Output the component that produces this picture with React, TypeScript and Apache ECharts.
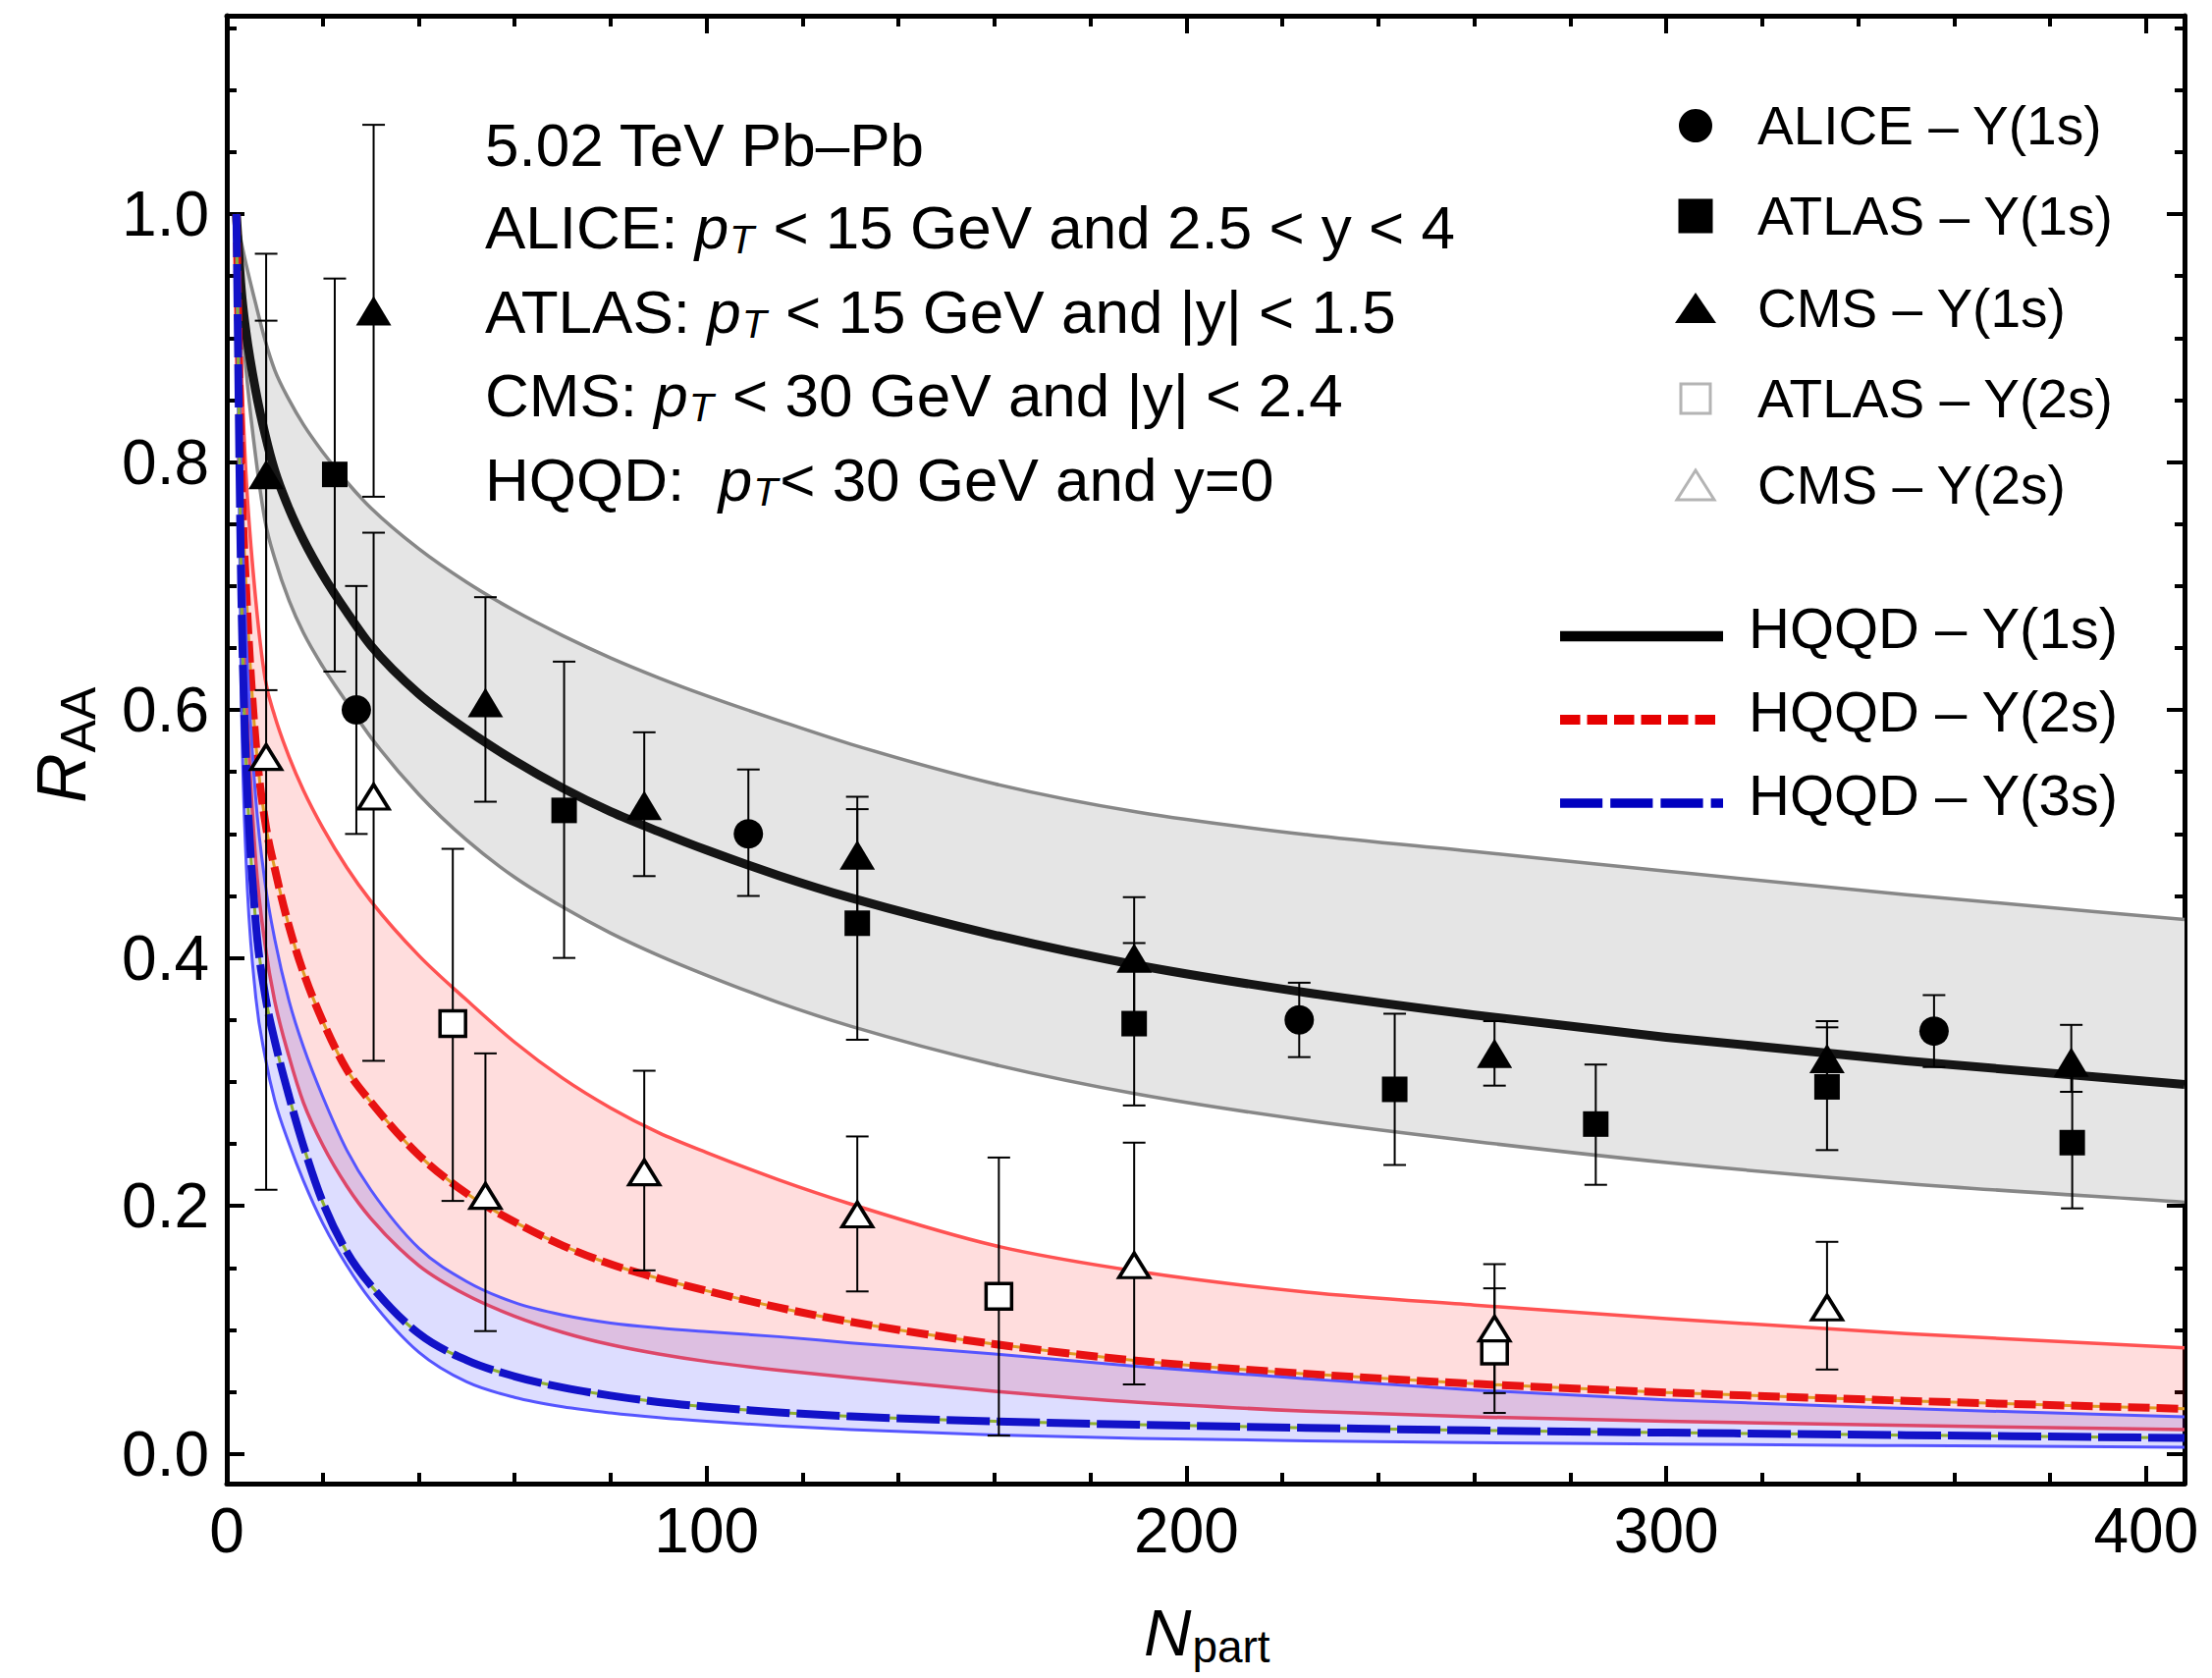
import React, { useEffect, useRef } from "react";
import * as echarts from "echarts";

// ---------------- data ----------------
const N_GRID = [2, 3, 4, 6, 8, 10, 13, 16, 20, 25, 30, 40, 50, 60, 70, 80, 90, 100, 115, 130, 160, 190, 225, 260, 300, 350, 408];

const Y1S_MID = [1.0, 0.94, 0.905, 0.858, 0.822, 0.793, 0.762, 0.737, 0.709, 0.679, 0.652, 0.613, 0.584, 0.559, 0.537, 0.518, 0.502, 0.487, 0.4665, 0.4485, 0.4185, 0.394, 0.372, 0.354, 0.336, 0.317, 0.298];
const Y1S_UP = [1.0, 0.978, 0.96, 0.928, 0.898, 0.874, 0.85, 0.83, 0.808, 0.784, 0.763, 0.73, 0.703, 0.68, 0.66, 0.642, 0.626, 0.6115, 0.5915, 0.5725, 0.5405, 0.5175, 0.4995, 0.4858, 0.47, 0.451, 0.431];
const Y1S_LO = [1.0, 0.925, 0.875, 0.805, 0.752, 0.722, 0.688, 0.662, 0.635, 0.606, 0.578, 0.532, 0.495, 0.465, 0.441, 0.42, 0.402, 0.386, 0.364, 0.345, 0.314, 0.29, 0.269, 0.252, 0.235, 0.218, 0.203];

const Y2S_MID = [1.0, 0.8, 0.7, 0.575, 0.51, 0.472, 0.425, 0.388, 0.349, 0.31, 0.284, 0.241, 0.21, 0.187, 0.168, 0.153, 0.1415, 0.1315, 0.118, 0.1065, 0.0885, 0.075, 0.0645, 0.0565, 0.0495, 0.0428, 0.0363];
const Y2S_UP = [1.0, 0.88, 0.79, 0.69, 0.625, 0.595, 0.562, 0.535, 0.505, 0.473, 0.446, 0.402, 0.366, 0.332, 0.303, 0.279, 0.259, 0.243, 0.221, 0.2015, 0.168, 0.147, 0.1305, 0.12, 0.109, 0.097, 0.0855];
const Y2S_LO = [1.0, 0.75, 0.62, 0.48, 0.41, 0.365, 0.32, 0.283, 0.249, 0.216, 0.19, 0.152, 0.128, 0.111, 0.098, 0.088, 0.0805, 0.0745, 0.0675, 0.0615, 0.0505, 0.0415, 0.0345, 0.0298, 0.0262, 0.0229, 0.0195];

const Y3S_MID = [1.0, 0.7, 0.56, 0.43, 0.37, 0.333, 0.288, 0.248, 0.203, 0.163, 0.136, 0.097, 0.0755, 0.0625, 0.0535, 0.047, 0.0418, 0.038, 0.0335, 0.0302, 0.0262, 0.0235, 0.021, 0.0189, 0.0171, 0.0151, 0.0128];
const Y3S_UP = [1.0, 0.78, 0.66, 0.53, 0.46, 0.415, 0.365, 0.328, 0.288, 0.245, 0.213, 0.166, 0.139, 0.122, 0.112, 0.1055, 0.1015, 0.0985, 0.0945, 0.0895, 0.0805, 0.0705, 0.0605, 0.0515, 0.0435, 0.0365, 0.0298];
const Y3S_LO = [1.0, 0.62, 0.48, 0.37, 0.32, 0.285, 0.25, 0.22, 0.186, 0.152, 0.124, 0.082, 0.058, 0.0455, 0.038, 0.033, 0.0292, 0.0262, 0.0225, 0.0195, 0.0152, 0.0125, 0.0105, 0.0091, 0.0078, 0.0066, 0.0054];

const ALICE1_N = [27, 108.7, 223.5, 355.8];
const ALICE1_R = [0.6, 0.5, 0.35, 0.341];
const ALICE1_LO = [0.5, 0.45, 0.32, 0.312];
const ALICE1_HI = [0.7, 0.552, 0.38, 0.37];

const ATLAS1_N = [22.5, 70.3, 131.4, 189.1, 243.4, 285.3, 333.5, 384.6];
const ATLAS1_R = [0.79, 0.519, 0.428, 0.347, 0.294, 0.266, 0.296, 0.251];
const ATLAS1_LO = [0.631, 0.4, 0.334, 0.281, 0.233, 0.217, 0.245, 0.198];
const ATLAS1_HI = [0.948, 0.639, 0.52, 0.412, 0.355, 0.314, 0.344, 0.305];

const CMS1_N = [8.2, 30.6, 53.9, 87, 131.4, 189.1, 264.2, 333.5, 384.4];
const CMS1_R = [0.79, 0.922, 0.606, 0.523, 0.483, 0.4, 0.323, 0.319, 0.316];
const CMS1_LO = [0.616, 0.772, 0.526, 0.466, 0.436, 0.351, 0.297, 0.29, 0.292];
const CMS1_HI = [0.968, 1.072, 0.691, 0.582, 0.53, 0.449, 0.349, 0.349, 0.346];

const ATLAS2_N = [47.1, 160.9, 264.2];
const ATLAS2_R = [0.347, 0.127, 0.083];
const ATLAS2_LO = [0.204, 0.0147, 0.033];
const ATLAS2_HI = [0.488, 0.239, 0.1335];

const CMS2_N = [8.2, 30.6, 53.9, 87, 131.4, 189.1, 264.2, 333.5];
const CMS2_R = [0.562, 0.53, 0.208, 0.227, 0.193, 0.152, 0.101, 0.118];
const CMS2_LO = [0.213, 0.317, 0.099, 0.148, 0.131, 0.056, 0.049, 0.068];
const CMS2_HI = [0.914, 0.743, 0.323, 0.309, 0.256, 0.251, 0.153, 0.171];

const X_TICKS_MAJOR = 100;
const X_TICKS_MINOR = 20;
const Y_TICKS_MAJOR = 0.2;
const Y_TICKS_MINOR = 0.05;

const LEGEND_MARKERS = ["ALICE \u2013 Y(1s)", "ATLAS \u2013 Y(1s)", "CMS \u2013 Y(1s)", "ATLAS \u2013 Y(2s)", "CMS \u2013 Y(2s)"];
const LEGEND_LINES = ["HQQD \u2013 Y(1s)", "HQQD \u2013 Y(2s)", "HQQD \u2013 Y(3s)"];
const ANNOT = [
  { pre: "5.02 TeV Pb\u2013Pb", post: null as string | null },
  { pre: "ALICE: ", post: " < 15 GeV and 2.5 < y < 4" },
  { pre: "ATLAS: ", post: " < 15 GeV and |y| < 1.5" },
  { pre: "CMS: ", post: " < 30 GeV and |y| < 2.4" },
  { pre: "HQQD:  ", post: "< 30 GeV and y=0" },
];

// ---------------- layout ----------------
const W = 2253;
const H = 1709;
const X_MIN = 0;
const X_MAX = 408;
const Y_MIN = -0.024;
const Y_MAX = 1.16;
const FONT = '"Liberation Sans", Arial, Helvetica, sans-serif';

// monotone cubic (Fritsch-Carlson) drawn as bezier segments through pixel points
function monoSegments(ctx: any, pts: number[][], move: boolean) {
  const n = pts.length;
  if (!n) return;
  if (move) ctx.moveTo(pts[0][0], pts[0][1]);
  else ctx.lineTo(pts[0][0], pts[0][1]);
  if (n === 1) return;
  const h: number[] = [];
  const d: number[] = [];
  for (let i = 0; i < n - 1; i++) {
    h[i] = pts[i + 1][0] - pts[i][0];
    d[i] = h[i] === 0 ? 0 : (pts[i + 1][1] - pts[i][1]) / h[i];
  }
  const m: number[] = new Array(n);
  m[0] = d[0];
  m[n - 1] = d[n - 2];
  for (let i = 1; i < n - 1; i++) m[i] = d[i - 1] * d[i] <= 0 ? 0 : (d[i - 1] + d[i]) / 2;
  for (let i = 0; i < n - 1; i++) {
    if (d[i] === 0) {
      m[i] = 0;
      m[i + 1] = 0;
      continue;
    }
    const a = m[i] / d[i];
    const b = m[i + 1] / d[i];
    const s = a * a + b * b;
    if (s > 9) {
      const t = 3 / Math.sqrt(s);
      m[i] = t * a * d[i];
      m[i + 1] = t * b * d[i];
    }
  }
  for (let i = 0; i < n - 1; i++) {
    const x0 = pts[i][0], y0 = pts[i][1], x1 = pts[i + 1][0], y1 = pts[i + 1][1];
    const dx = h[i] / 3;
    ctx.bezierCurveTo(x0 + dx, y0 + m[i] * dx, x1 - dx, y1 - m[i + 1] * dx, x1, y1);
  }
}

const BandShape = (echarts.graphic as any).extendShape({
  shape: { up: [] as number[][], lo: [] as number[][] },
  buildPath(ctx: any, shape: any) {
    const up = shape.up || [];
    const lo = shape.lo || [];
    monoSegments(ctx, up, true);
    if (lo.length) {
      monoSegments(ctx, lo.slice().reverse(), false);
      ctx.closePath();
    }
  },
});
(echarts.graphic as any).registerShape("hqqdBand", BandShape);

function bandSeries(up: number[], lo: number[], fill: string) {
  return {
    type: "custom",
    coordinateSystem: "cartesian2d",
    silent: true,
    data: [[0, 0]],
    encode: { x: 0, y: 1 },
    renderItem: (_p: any, api: any) => ({
      type: "hqqdBand",
      shape: {
        up: N_GRID.map((n, i) => api.coord([n, up[i]])),
        lo: N_GRID.map((n, i) => api.coord([n, lo[i]])),
      },
      style: { fill, stroke: "none" },
    }),
  };
}

function curveSeries(vals: number[], stroke: string, lineWidth: number, dash?: number[]) {
  return {
    type: "custom",
    coordinateSystem: "cartesian2d",
    silent: true,
    data: [[0, 0]],
    encode: { x: 0, y: 1 },
    renderItem: (_p: any, api: any) => ({
      type: "hqqdBand",
      shape: { up: N_GRID.map((n, i) => api.coord([n, vals[i]])), lo: [] },
      style: { fill: "none", stroke, lineWidth, lineDash: dash || null, lineCap: "butt", lineJoin: "round" },
    }),
  };
}

function zip2(a: number[], b: number[]) {
  return a.map((v, i) => [v, b[i]]);
}
function zip3(a: number[], b: number[], c: number[]) {
  return a.map((v, i) => [v, b[i], c[i]]);
}

const ERR_DATA = [
  ...zip3(ALICE1_N, ALICE1_LO, ALICE1_HI),
  ...zip3(ATLAS1_N, ATLAS1_LO, ATLAS1_HI),
  ...zip3(CMS1_N, CMS1_LO, CMS1_HI),
  ...zip3(ATLAS2_N, ATLAS2_LO, ATLAS2_HI),
  ...zip3(CMS2_N, CMS2_LO, CMS2_HI),
];

let mctx: CanvasRenderingContext2D | null = null;
function tw(text: string, size: number, italic = false): number {
  if (!mctx) mctx = document.createElement("canvas").getContext("2d");
  if (!mctx) return text.length * size * 0.55;
  mctx.font = `${italic ? "italic " : ""}${size}px ${FONT}`;
  return mctx.measureText(text).width;
}

function txt(x: number, y: number, text: string, size: number, italic = false) {
  return {
    type: "text",
    x,
    y,
    z: 100,
    silent: true,
    style: {
      text,
      fontSize: size,
      fontFamily: FONT,
      fontStyle: italic ? "italic" : "normal",
      fill: "#000",
      align: "left",
      verticalAlign: "middle",
      textAlign: "left",
      textVerticalAlign: "middle",
    },
  };
}

function buildGraphics() {
  const els: any[] = [];
  // annotation block
  const AX = 494;
  const AY = [147, 231, 317, 402, 488];
  const FS = 62;
  const SUB = 41;
  ANNOT.forEach((ln, i) => {
    const y = AY[i];
    els.push(txt(AX, y, ln.pre.trim(), FS));
    if (ln.post !== null) {
      const xp = AX + tw(ln.pre, FS);
      els.push(txt(xp, y, "p", FS, true));
      const xT = xp + tw("p", FS, true) + 1;
      els.push(txt(xT, y + 13, "T", SUB, true));
      const lead = (ln.post.match(/^ */) || [""])[0].length;
      const xPost = xT + tw("T", SUB, true) + lead * tw(" ", FS) + 2;
      els.push(txt(xPost, y, ln.post.trimStart(), FS));
    }
  });

  // marker legend
  const LX = 1727;
  const LY = [128, 220, 314, 406, 494];
  els.push({ type: "circle", z: 100, silent: true, shape: { cx: LX, cy: LY[0], r: 17 }, style: { fill: "#000" } });
  els.push({ type: "rect", z: 100, silent: true, shape: { x: LX - 17.5, y: LY[1] - 17.5, width: 35, height: 35 }, style: { fill: "#000" } });
  els.push({
    type: "polygon", z: 100, silent: true,
    shape: { points: [[LX - 21, LY[2] + 15], [LX + 21, LY[2] + 15], [LX, LY[2] - 16]] },
    style: { fill: "#000" },
  });
  els.push({
    type: "rect", z: 100, silent: true,
    shape: { x: LX - 15, y: LY[3] - 15, width: 30, height: 30 },
    style: { fill: "#fff", stroke: "#b4b4b4", lineWidth: 3 },
  });
  els.push({
    type: "polygon", z: 100, silent: true,
    shape: { points: [[LX - 19, LY[4] + 15], [LX + 19, LY[4] + 15], [LX, LY[4] - 15]] },
    style: { fill: "#fff", stroke: "#b4b4b4", lineWidth: 3 },
  });
  LEGEND_MARKERS.forEach((t, i) => els.push(txt(1790, LY[i], t, 55)));

  // line legend
  const L2Y = [639, 724, 809];
  els.push({ type: "line", z: 100, silent: true, shape: { x1: 1589, y1: L2Y[0] + 9, x2: 1755, y2: L2Y[0] + 9 }, style: { stroke: "#000", lineWidth: 10.5 } });
  els.push({ type: "line", z: 100, silent: true, shape: { x1: 1589, y1: L2Y[1] + 9, x2: 1747, y2: L2Y[1] + 9 }, style: { stroke: "#e60000", lineWidth: 10, lineDash: [20.5, 7] } });
  els.push({ type: "line", z: 100, silent: true, shape: { x1: 1589, y1: L2Y[2] + 9, x2: 1755, y2: L2Y[2] + 9 }, style: { stroke: "#0000bf", lineWidth: 9.5, lineDash: [43.2, 8] } });
  LEGEND_LINES.forEach((t, i) => els.push(txt(1781, L2Y[i], t, 58)));

  // y axis title R_AA (rotated)
  const rW = tw("R", 70, true);
  els.push({
    type: "group",
    x: 63,
    y: 818,
    rotation: Math.PI / 2,
    silent: true,
    children: [txt(0, 0, "R", 70, true), txt(rW + 1, 17, "AA", 50)],
  });
  // x axis title N_part
  const nW = tw("N", 67, true);
  els.push(txt(1165, 1662, "N", 67, true));
  els.push(txt(1165 + nW + 1, 1677, "part", 46));
  return els;
}

function xAxisDef(position: string, step: number, major: boolean, labels: boolean) {
  return {
    type: "value",
    position,
    min: X_MIN,
    max: X_MAX,
    minInterval: step,
    maxInterval: step,
    splitLine: { show: false },
    axisLine: { show: major, onZero: false, lineStyle: { color: "#000", width: 5 } },
    axisTick: { show: true, inside: true, length: major ? 18 : 11, lineStyle: { color: "#000", width: 4 } },
    axisLabel: labels
      ? {
          show: true,
          margin: 16,
          fontSize: 64,
          fontFamily: FONT,
          color: "#000",
          showMaxLabel: false,
          formatter: (v: number) => (Math.abs(v / X_TICKS_MAJOR - Math.round(v / X_TICKS_MAJOR)) < 1e-6 ? String(Math.round(v)) : ""),
        }
      : { show: false },
  };
}

function yAxisDef(position: string, step: number, major: boolean, labels: boolean) {
  return {
    type: "value",
    position,
    min: Y_MIN,
    max: Y_MAX,
    minInterval: step,
    maxInterval: step,
    splitLine: { show: false },
    axisLine: { show: major, onZero: false, lineStyle: { color: "#000", width: 5 } },
    axisTick: { show: true, inside: true, length: major ? 18 : 10, lineStyle: { color: "#000", width: 4 } },
    axisLabel: labels
      ? {
          show: true,
          margin: 18,
          fontSize: 64,
          fontFamily: FONT,
          color: "#000",
          showMinLabel: false,
          showMaxLabel: false,
          formatter: (v: number) =>
            Math.abs(v / Y_TICKS_MAJOR - Math.round(v / Y_TICKS_MAJOR)) < 1e-6 ? Math.abs(v).toFixed(1) : "",
        }
      : { show: false },
  };
}

function buildOption() {
  const errSeries = {
    type: "custom",
    coordinateSystem: "cartesian2d",
    silent: true,
    data: ERR_DATA,
    encode: { x: 0, y: [1, 2] },
    renderItem: (_p: any, api: any) => {
      const x = api.value(0);
      const a = api.coord([x, api.value(1)]);
      const b = api.coord([x, api.value(2)]);
      const hw = 11.5;
      const st = { stroke: "#000", lineWidth: 2 };
      return {
        type: "group",
        children: [
          { type: "line", shape: { x1: a[0], y1: a[1], x2: b[0], y2: b[1] }, style: st },
          { type: "line", shape: { x1: a[0] - hw, y1: a[1], x2: a[0] + hw, y2: a[1] }, style: st },
          { type: "line", shape: { x1: b[0] - hw, y1: b[1], x2: b[0] + hw, y2: b[1] }, style: st },
        ],
      };
    },
  };
  const filled = { color: "#000", opacity: 1 };
  const open = { color: "#fff", borderColor: "#000", borderWidth: 3.5, opacity: 1 };
  return {
    animation: false,
    backgroundColor: "#fff",
    grid: { left: 231, right: 28, top: 16, bottom: 198, containLabel: false },
    xAxis: [
      xAxisDef("bottom", X_TICKS_MAJOR, true, true),
      xAxisDef("bottom", X_TICKS_MINOR, false, false),
      xAxisDef("top", X_TICKS_MAJOR, true, false),
      xAxisDef("top", X_TICKS_MINOR, false, false),
    ],
    yAxis: [
      yAxisDef("left", Y_TICKS_MAJOR, true, true),
      yAxisDef("left", Y_TICKS_MINOR, false, false),
      yAxisDef("right", Y_TICKS_MAJOR, true, false),
      yAxisDef("right", Y_TICKS_MINOR, false, false),
    ],
    graphic: { elements: buildGraphics() },
    series: [
      bandSeries(Y1S_UP, Y1S_LO, "#e5e5e5"),
      curveSeries(Y1S_UP, "#878787", 3.5),
      curveSeries(Y1S_LO, "#878787", 3.5),
      curveSeries(Y1S_MID, "#151515", 9),
      bandSeries(Y2S_UP, Y2S_LO, "rgba(255,0,0,0.135)"),
      curveSeries(Y2S_UP, "#ff5252", 3.5),
      curveSeries(Y2S_LO, "#ff5252", 3.5),
      curveSeries(Y2S_MID, "#e19c24", 3),
      curveSeries(Y2S_MID, "#e81212", 8, [22, 7]),
      bandSeries(Y3S_UP, Y3S_LO, "rgba(0,0,255,0.135)"),
      curveSeries(Y3S_UP, "#5555ff", 3),
      curveSeries(Y3S_LO, "#5555ff", 3),
      curveSeries(Y3S_MID, "#8fb032", 3),
      curveSeries(Y3S_MID, "#1212c8", 8, [44, 7]),
      errSeries,
      { type: "scatter", silent: true, data: zip2(ALICE1_N, ALICE1_R), symbol: "circle", symbolSize: 30, itemStyle: filled },
      { type: "scatter", silent: true, data: zip2(ATLAS1_N, ATLAS1_R), symbol: "rect", symbolSize: 26, itemStyle: filled },
      { type: "scatter", silent: true, data: zip2(CMS1_N, CMS1_R), symbol: "triangle", symbolSize: [36, 30], itemStyle: filled },
      { type: "scatter", silent: true, data: zip2(ATLAS2_N, ATLAS2_R), symbol: "rect", symbolSize: 26, itemStyle: open },
      { type: "scatter", silent: true, data: zip2(CMS2_N, CMS2_R), symbol: "triangle", symbolSize: [31, 25], itemStyle: open },
    ],
  };
}

export default function App() {
  const ref = useRef<HTMLDivElement>(null);
  useEffect(() => {
    document.body.style.margin = "0";
    document.body.style.overflow = "hidden";
    const chart = echarts.init(ref.current as HTMLDivElement, null, { renderer: "svg", width: W, height: H });
    chart.setOption(buildOption() as any);
    return () => {
      chart.dispose();
    };
  }, []);
  return <div ref={ref} style={{ position: "absolute", left: 0, top: 0, width: W, height: H, background: "#fff" }} />;
}
